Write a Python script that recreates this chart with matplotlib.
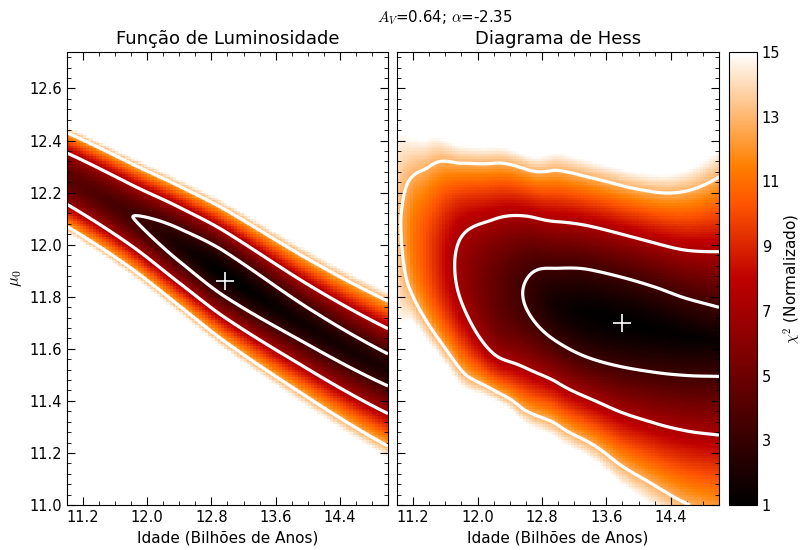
import numpy as np
import matplotlib
matplotlib.use('Agg')
import matplotlib.pyplot as plt
from matplotlib.ticker import MultipleLocator, FormatStrFormatter

plt.rcParams['mathtext.fontset'] = 'cm'
plt.rcParams['font.family'] = 'DejaVu Sans'

nan = np.nan
# niveis: contornos (min + 2.30, 6.17, 11.8) e borda branca do mapa (15)
niveis = [3.30, 7.17, 12.80, 15.0]
niveis_contorno = niveis[:3]

# Funcao de Luminosidade: leitura coluna a coluna (idade, mu0)
lf_idade = [11.0, 11.82, 12.4, 12.97, 14.0, 15.0]
lf_centro = [12.25, 12.11, 12.0, 11.87, 11.69, 11.515]
lf_min = [4.3, 3.3, 1.9, 1.0, 1.6, 1.9]
lf_sup = [[nan, 12.347, 12.424, 12.456],
          [nan, 12.24, 12.313, nan],
          [12.06, 12.149, 12.217, nan],
          [11.96, 12.06, 12.115, nan],
          [11.76, 11.869, 11.945, nan],
          [11.579, 11.686, 11.773, 11.80]]
lf_inf = [[nan, 12.153, 12.066, 12.04],
          [nan, 11.99, 11.91, nan],
          [11.958, 11.852, 11.761, nan],
          [11.78, 11.72, 11.625, nan],
          [11.62, 11.511, 11.415, nan],
          [11.46, 11.33, 11.243, 11.20]]
lf_melhor = [12.97, 11.86]

# Diagrama de Hess
hd_idade = [11.0, 11.2, 11.4, 11.8, 12.2, 12.6, 13.0, 13.4, 13.8, 14.2, 14.6, 15.0]
hd_centro = [12.10, 12.03, 11.995, 11.905, 11.84, 11.811, 11.767, 11.732, 11.70, 11.674, 11.645, 11.63]
hd_min = [13.3, 11.2, 9.8, 6.6, 4.7, 3.15, 1.6, 1.1, 1.0, 1.05, 1.15, 1.3]
hd_sup = [[nan, nan, nan, 12.414],
          [nan, nan, 12.265, 12.41],
          [nan, nan, 12.30, 12.41],
          [nan, 12.03, 12.313, nan],
          [nan, 12.097, 12.313, nan],
          [11.862, 12.106, 12.295, nan],
          [11.908, 12.098, 12.275, nan],
          [11.902, 12.079, 12.250, nan],
          [11.874, 12.041, 12.225, nan],
          [11.837, 12.009, 12.200, nan],
          [11.793, 11.978, 12.207, nan],
          [11.765, 11.954, 12.213, 12.44]]
hd_inf = [[nan, nan, nan, 11.72],
          [nan, nan, 11.80, 11.70],
          [nan, nan, 11.69, 11.62],
          [nan, 11.78, 11.517, nan],
          [nan, 11.581, 11.441, nan],
          [11.760, 11.507, 11.386, nan],
          [11.626, 11.460, 11.315, nan],
          [11.562, 11.415, 11.232, nan],
          [11.530, 11.356, 11.147, nan],
          [11.511, 11.307, 11.083, nan],
          [11.498, 11.281, 11.009, nan],
          [11.492, 11.281, 10.95, nan]]
hd_melhor = [13.79, 11.70]


def pchip(x, xp, fp):
    ''' interpolacao cubica monotona (sem scipy) '''
    xp, fp = np.asarray(xp, float), np.asarray(fp, float)
    h = np.diff(xp)
    delta = np.diff(fp) / h
    dk = np.zeros_like(fp)
    dk[0], dk[-1] = delta[0], delta[-1]
    for k in range(1, len(fp) - 1):
        if delta[k - 1] * delta[k] > 0:
            w1, w2 = 2 * h[k] + h[k - 1], h[k] + 2 * h[k - 1]
            dk[k] = (w1 + w2) / (w1 / delta[k - 1] + w2 / delta[k])
    i = np.clip(np.searchsorted(xp, x) - 1, 0, len(h) - 1)
    t = (x - xp[i]) / h[i]
    return ((2 * t**3 - 3 * t**2 + 1) * fp[i] + (t**3 - 2 * t**2 + t) * h[i] * dk[i]
            + (-2 * t**3 + 3 * t**2) * fp[i + 1] + (t**3 - t**2) * h[i] * dk[i + 1])


def ajuste(centro, minimo, cortes):
    ''' largura s e expoente p do perfil chi2 = min + (|d|/s)^p em cada coluna '''
    s_l, p_l = [], []
    for c, m, linha in zip(centro, minimo, cortes):
        d = np.abs(np.array(linha) - c)
        dl = np.array(niveis) - m
        ok = np.isfinite(d) & (dl > 0.05)
        if ok.sum() >= 2:
            p = np.polyfit(np.log(d[ok]), np.log(dl[ok]), 1)[0]
            p = float(np.clip(p, 1.0, 4.0))
            s = np.exp(np.mean(np.log(d[ok]) - np.log(dl[ok]) / p))
        else:
            p = 1.5
            s = d[ok][0] / dl[ok][0] ** (1 / p)
        s_l.append(s)
        p_l.append(p)
    return s_l, p_l


def mapa(idade, centro, minimo, sup, inf, x, y, suave=False):
    su, pu = ajuste(centro, minimo, sup)
    si, pi = ajuste(centro, minimo, inf)
    if suave:
        # banda quase reta: ajustes polinomiais suaves das leituras
        interp = lambda xx, xp, fp, g=2: np.polyval(np.polyfit(xp, fp, g), xx)
        c = interp(x, idade, centro, 3)
    else:
        interp = lambda xx, xp, fp, g=2: pchip(xx, xp, fp)
        c = pchip(x, idade, centro)
    X, Y = np.meshgrid(x, y)
    m = np.maximum(pchip(x, idade, minimo), 1.0)
    d = Y - c
    s = np.where(d > 0, interp(x, idade, su), interp(x, idade, si))
    p = np.where(d > 0, interp(x, idade, pu), interp(x, idade, pi))
    return m + (np.abs(d) / s) ** p


xc = np.arange(11.02, 15.0, 0.04)
yc = np.arange(11.005, 12.75, 0.01)
xf = np.linspace(11.0, 15.0, 401)
yf = np.linspace(11.0, 12.74, 697)

fig = plt.figure(figsize=(8.05, 5.5), dpi=100)
ax1 = fig.add_axes([0.0832, 0.0818, 0.3988, 0.8236])
ax2 = fig.add_axes([0.4932, 0.0818, 0.4, 0.8236])
cax = fig.add_axes([0.9056, 0.0818, 0.0348, 0.8236])

paineis = [(ax1, lf_idade, lf_centro, lf_min, lf_sup, lf_inf, lf_melhor, 'Função de Luminosidade', True),
           (ax2, hd_idade, hd_centro, hd_min, hd_sup, hd_inf, hd_melhor, 'Diagrama de Hess', False)]
for ax, idade, centro, minimo, sup, inf, melhor, titulo, suave in paineis:
    z = mapa(idade, centro, minimo, sup, inf, xc, yc, suave)
    im = ax.pcolormesh(xc, yc, z, shading='nearest', cmap='gist_heat', vmin=1, vmax=15)
    zf = mapa(idade, centro, minimo, sup, inf, xf, yf, suave)
    ax.contour(xf, yf, zf, levels=niveis_contorno, colors='white', linewidths=2.3)
    ax.plot(melhor[0], melhor[1], '+', color='white', markersize=13, mew=1.2)
    ax.set_xlim(11.0, 15.0)
    ax.set_ylim(11.0, 12.74)
    ax.set_title(titulo, fontsize=13)
    ax.set_xlabel('Idade (Bilhões de Anos)', fontsize=11)
    ax.xaxis.set_major_locator(MultipleLocator(0.8))
    ax.xaxis.set_minor_locator(MultipleLocator(0.2))
    ax.yaxis.set_major_locator(MultipleLocator(0.2))
    ax.yaxis.set_minor_locator(MultipleLocator(0.04))
    ax.xaxis.set_major_formatter(FormatStrFormatter('%.1f'))
    ax.yaxis.set_major_formatter(FormatStrFormatter('%.1f'))
    ax.tick_params(which='both', direction='in', top=True, right=True, labelsize=10.5)
    ax.tick_params(which='major', length=6)
    ax.tick_params(which='minor', length=3)

ax2.tick_params(labelleft=False)
ax1.set_ylabel(r'$\mu_0$', fontsize=12)

cb = fig.colorbar(im, cax=cax, ticks=range(1, 16, 2))
cb.ax.tick_params(labelsize=10.5, direction='in', length=0)
cb.set_label(r'$\chi^2$ (Normalizado)', fontsize=11, labelpad=1)

fig.suptitle(r'$A_V$=0.64; $\alpha$=-2.35', fontsize=10.8, x=0.553, y=0.985)

fig.savefig('out.png', dpi=100)
